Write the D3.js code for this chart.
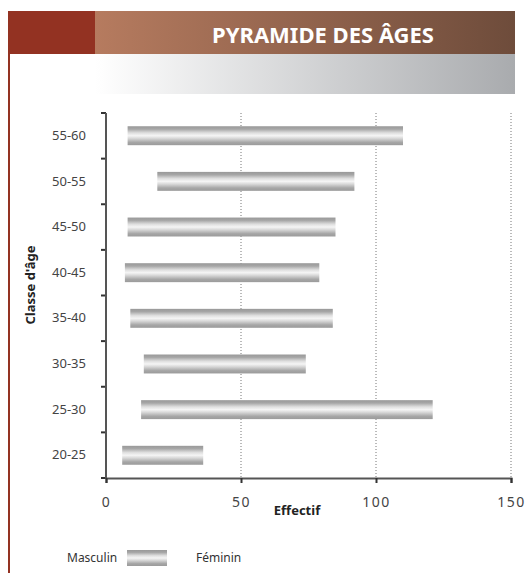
<!DOCTYPE html>
<html>
<head>
<meta charset="utf-8">
<script src="https://cdn.jsdelivr.net/npm/d3@7"></script>
<style>
  body { margin: 0; background: #fff; }
  svg { display: block; font-family: "Noto Sans", "Open Sans", sans-serif; }
</style>
</head>
<body>
<div id="chart"></div>
<script>
// Data
var classes = ["20-25", "25-30", "30-35", "35-40", "40-45", "45-50", "50-55", "55-60"];
var masculin = [6, 13, 14, 9, 7, 8, 19, 8];
var feminin = [30, 108, 60, 75, 72, 77, 73, 102];
var series = ["Masculin", "Féminin"];
var xTicks = [0, 50, 100, 150];

var width = 526, height = 575;
var margins = { top: 113, bottom: 97, left: 106, right: 15 };

var rows = classes.map(function (c, i) {
    return { classe: c, "Masculin": masculin[i], "Féminin": feminin[i] };
});
var stacked = d3.stack().keys(series)(rows);

var svg = d3.select("#chart")
    .append("svg")
    .attr("width", width)
    .attr("height", height);

var defs = svg.append("defs");

// header gradients
var hdr = defs.append("linearGradient").attr("id", "hdr");
hdr.append("stop").attr("offset", "0%").attr("stop-color", "#b67b5f");
hdr.append("stop").attr("offset", "100%").attr("stop-color", "#6e4c3b");

var band = defs.append("linearGradient").attr("id", "band");
band.append("stop").attr("offset", "0%").attr("stop-color", "#ffffff");
band.append("stop").attr("offset", "100%").attr("stop-color", "#a9abae");

// bar gradient (vertical, light in the middle)
var barGrad = defs.append("linearGradient").attr("id", "bar")
    .attr("x1", 0).attr("y1", 0).attr("x2", 0).attr("y2", 1);
[[0, "#999999"], [0.15, "#a6a6a6"], [0.35, "#dedede"], [0.5, "#f5f5f5"],
 [0.65, "#d6d6d6"], [0.85, "#a6a6a6"], [1, "#9b9b9b"]].forEach(function (s) {
    barGrad.append("stop").attr("offset", s[0]).attr("stop-color", s[1]);
});

// Header
svg.append("rect").attr("x", 8).attr("y", 11).attr("width", 87).attr("height", 43).attr("fill", "#933222");
svg.append("rect").attr("x", 95).attr("y", 11).attr("width", 420).attr("height", 43).attr("fill", "url(#hdr)");
svg.append("rect").attr("x", 95).attr("y", 54).attr("width", 420).attr("height", 40).attr("fill", "url(#band)");
svg.append("rect").attr("x", 8).attr("y", 11).attr("width", 2).attr("height", 562).attr("fill", "#933222");

svg.append("text")
    .attr("x", 323).attr("y", 43)
    .attr("text-anchor", "middle")
    .attr("fill", "#fff")
    .attr("font-weight", "bold")
    .attr("font-size", 22)
    .text("PYRAMIDE DES ÂGES");

// Scales
var x = d3.scaleLinear()
    .domain([0, 150])
    .range([margins.left, width - margins.right]);
var y = d3.scaleBand()
    .domain(classes)
    .range([height - margins.bottom, margins.top])
    .paddingInner(0.585)
    .paddingOuter(0.29);

// dotted gridlines
svg.append("g")
    .selectAll("line")
    .data(xTicks.slice(1))
    .join("line")
    .attr("x1", d => x(d)).attr("x2", d => x(d))
    .attr("y1", margins.top).attr("y2", height - margins.bottom)
    .attr("stroke", "#777")
    .attr("stroke-width", 1)
    .attr("stroke-dasharray", "1,2");

// Bars: masculin offset is left blank, féminin drawn in grey
svg.append("g")
    .selectAll("g")
    .data(stacked)
    .join("g")
    .attr("fill", d => d.key == "Masculin" ? "none" : "url(#bar)")
    .selectAll("rect")
    .data(d => d)
    .join("rect")
    .attr("x", d => x(d[0]))
    .attr("y", d => y(d.data.classe))
    .attr("width", d => x(d[1]) - x(d[0]))
    .attr("height", y.bandwidth());

// Axes
var yAxis = svg.append("g")
    .attr("transform", "translate(" + margins.left + ",0)")
    .call(d3.axisLeft(d3.scaleBand().domain(classes).range([height - margins.bottom, margins.top]))
        .tickSize(0).tickPadding(20));
yAxis.select(".domain").remove();
yAxis.selectAll("text").attr("font-size", 13).attr("fill", "#444").attr("font-family", "Noto Sans");

// y axis line with boundary ticks
var bounds = d3.range(classes.length + 1).map(i => margins.top + i * (height - margins.bottom - margins.top) / classes.length);
svg.append("g")
    .selectAll("line")
    .data(bounds)
    .join("line")
    .attr("x1", margins.left - 5).attr("x2", margins.left)
    .attr("y1", d => d).attr("y2", d => d)
    .attr("stroke", "#333").attr("stroke-width", 2);
svg.append("line")
    .attr("x1", margins.left).attr("x2", margins.left)
    .attr("y1", margins.top).attr("y2", height - margins.bottom + 1)
    .attr("stroke", "#555").attr("stroke-width", 2);

var xAxis = svg.append("g")
    .attr("transform", "translate(0," + (height - margins.bottom) + ")")
    .call(d3.axisBottom(x).tickValues(xTicks).tickSize(5).tickPadding(14));
xAxis.select(".domain").attr("stroke", "#555").attr("stroke-width", 2);
xAxis.selectAll(".tick line").attr("stroke", "#333").attr("stroke-width", 2);
xAxis.selectAll("text").attr("font-size", 14).attr("fill", "#444")
    .attr("font-family", "Noto Sans").attr("letter-spacing", 1.5);

// Axis titles
svg.append("text")
    .attr("x", 297).attr("y", 515)
    .attr("text-anchor", "middle")
    .attr("font-weight", "bold")
    .attr("font-size", 13)
    .attr("fill", "#222")
    .text("Effectif");

svg.append("text")
    .attr("transform", "translate(35,285) rotate(-90)")
    .attr("text-anchor", "middle")
    .attr("font-weight", "bold")
    .attr("font-size", 13)
    .attr("fill", "#222")
    .text("Classe d'âge");

// Legend: masculin swatch is blank, like its bars
var swatchX = [27, 127], labelX = [67, 196];
var legend = svg.append("g")
    .selectAll("g")
    .data(series)
    .join("g");
legend.append("rect")
    .attr("x", (d, i) => swatchX[i]).attr("y", 550)
    .attr("width", 40).attr("height", 16)
    .attr("fill", d => d == "Masculin" ? "none" : "url(#bar)");
legend.append("text")
    .attr("x", (d, i) => labelX[i])
    .attr("y", 562)
    .attr("font-size", 12)
    .attr("fill", "#333")
    .text(d => d);
</script>
</body>
</html>
